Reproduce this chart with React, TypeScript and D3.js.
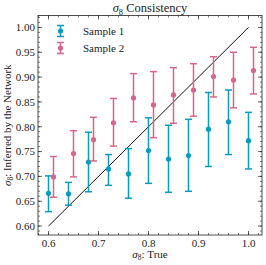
import * as d3 from "d3";
import React from "react";

// sample 1: true sigma8, inferred value, lower / upper bound
const x1 = [0.6, 0.64, 0.68, 0.72, 0.76, 0.8, 0.84, 0.88, 0.92, 0.96, 1.0];
const y1 = [0.666, 0.665, 0.729, 0.715, 0.705, 0.752, 0.735, 0.742, 0.795, 0.81, 0.772];
const lo1 = [0.629, 0.642, 0.669, 0.682, 0.656, 0.686, 0.668, 0.67, 0.72, 0.744, 0.715];
const hi1 = [0.701, 0.688, 0.789, 0.744, 0.756, 0.818, 0.803, 0.815, 0.869, 0.874, 0.829];

// sample 2 (shifted by +0.01 on x)
const x2 = [0.61, 0.65, 0.69, 0.73, 0.77, 0.81, 0.85, 0.89, 0.93, 0.97, 1.01];
const y2 = [0.699, 0.746, 0.774, 0.808, 0.858, 0.844, 0.864, 0.874, 0.901, 0.894, 0.913];
const lo2 = [0.658, 0.699, 0.731, 0.761, 0.81, 0.778, 0.807, 0.821, 0.86, 0.838, 0.866];
const hi2 = [0.74, 0.792, 0.819, 0.857, 0.907, 0.911, 0.919, 0.927, 0.941, 0.95, 0.96];

const xTicks = [0.6, 0.7, 0.8, 0.9, 1.0];
const yTicks = [0.6, 0.65, 0.7, 0.75, 0.8, 0.85, 0.9, 0.95, 1.0];
const seriesNames = ["Sample 1", "Sample 2"];
const colors = ["#0a9bc0", "#d6668a"];

const W = 266;
const H = 265;
const margin = { top: 15.5, right: 4, bottom: 30, left: 38 };
const font = "'Liberation Serif', serif";

export default function App() {
  const x = d3.scaleLinear().domain([0.579, 1.027]).range([margin.left, W - margin.right]);
  const y = d3.scaleLinear().domain([0.582, 1.024]).range([H - margin.bottom, margin.top]);
  const [x0, xr] = x.range();
  const [yb, yt] = y.range();

  const xMinor = d3.range(0.58, 1.03, 0.02).filter((v) => v >= 0.579 && v <= 1.027);
  const yMinor = d3.range(0.59, 1.024, 0.01);

  const series = [
    { xs: x1, ys: y1, lo: lo1, hi: hi1 },
    { xs: x2, ys: y2, lo: lo2, hi: hi2 },
  ];

  const line = d3.line<number>().x((d) => x(d)).y((d) => y(d));

  return (
    <div style={{ position: "fixed", left: 0, top: 0 }}>
      <svg width={W} height={H} style={{ display: "block", background: "#fff" }} fontFamily={font}>
        {/* identity line */}
        <path d={line([0.6, 1.0])!} stroke="#111" strokeWidth={1} fill="none" />

        {series.map((s, k) => (
          <g key={k} stroke={colors[k]} fill={colors[k]}>
            {s.xs.map((xv, i) => (
              <g key={i}>
                <line x1={x(xv)} x2={x(xv)} y1={y(s.lo[i])} y2={y(s.hi[i])} strokeWidth={1.5} />
                <line x1={x(xv) - 3.5} x2={x(xv) + 3.5} y1={y(s.lo[i])} y2={y(s.lo[i])} strokeWidth={1.5} />
                <line x1={x(xv) - 3.5} x2={x(xv) + 3.5} y1={y(s.hi[i])} y2={y(s.hi[i])} strokeWidth={1.5} />
                <circle cx={x(xv)} cy={y(s.ys[i])} r={2.6} stroke="none" />
              </g>
            ))}
          </g>
        ))}

        {/* frame */}
        <rect x={x0} y={yt} width={xr - x0} height={yb - yt} fill="none" stroke="#222" strokeWidth={0.8} />

        {/* x ticks */}
        {xTicks.map((t) => (
          <g key={t}>
            <line x1={x(t)} x2={x(t)} y1={yb} y2={yb - 4} stroke="#222" strokeWidth={0.7} />
            <line x1={x(t)} x2={x(t)} y1={yt} y2={yt + 4} stroke="#222" strokeWidth={0.7} />
            <text x={x(t)} y={yb + 12} fontSize={11} textAnchor="middle" fill="#222">
              {t.toFixed(1)}
            </text>
          </g>
        ))}
        {xMinor.map((t, i) => (
          <g key={i}>
            <line x1={x(t)} x2={x(t)} y1={yb} y2={yb - 2} stroke="#222" strokeWidth={0.6} />
            <line x1={x(t)} x2={x(t)} y1={yt} y2={yt + 2} stroke="#222" strokeWidth={0.6} />
          </g>
        ))}

        {/* y ticks */}
        {yTicks.map((t) => (
          <g key={t}>
            <line x1={x0} x2={x0 + 4} y1={y(t)} y2={y(t)} stroke="#222" strokeWidth={0.7} />
            <line x1={xr} x2={xr - 4} y1={y(t)} y2={y(t)} stroke="#222" strokeWidth={0.7} />
            <text x={x0 - 3} y={y(t) + 3.8} fontSize={11} textAnchor="end" fill="#222">
              {t.toFixed(2)}
            </text>
          </g>
        ))}
        {yMinor.map((t, i) => (
          <g key={i}>
            <line x1={x0} x2={x0 + 2} y1={y(t)} y2={y(t)} stroke="#222" strokeWidth={0.6} />
            <line x1={xr} x2={xr - 2} y1={y(t)} y2={y(t)} stroke="#222" strokeWidth={0.6} />
          </g>
        ))}

        {/* legend */}
        {seriesNames.map((name, k) => {
          const ly = 31 + k * 17;
          const lx = 60.5;
          return (
            <g key={name}>
              <g stroke={colors[k]} fill={colors[k]}>
                <line x1={lx} x2={lx} y1={ly - 5.5} y2={ly + 5.5} strokeWidth={1.5} />
                <line x1={lx - 3.5} x2={lx + 3.5} y1={ly - 5.5} y2={ly - 5.5} strokeWidth={1.5} />
                <line x1={lx - 3.5} x2={lx + 3.5} y1={ly + 5.5} y2={ly + 5.5} strokeWidth={1.5} />
                <circle cx={lx} cy={ly} r={2.6} stroke="none" />
              </g>
              <text x={83} y={ly + 4} fontSize={11} fill="#222">
                {name}
              </text>
            </g>
          );
        })}

        {/* title */}
        <text x={(x0 + xr) / 2} y={12} fontSize={12.5} textAnchor="middle" fill="#222">
          <tspan fontStyle="italic">σ</tspan>
          <tspan fontSize={8.5} dy={2.5}>8</tspan>
          <tspan dy={-2.5}> Consistency</tspan>
        </text>

        {/* axis labels */}
        <text x={(x0 + xr) / 2} y={258} fontSize={11} textAnchor="middle" fill="#222">
          <tspan fontStyle="italic">σ</tspan>
          <tspan fontSize={7.5} dy={2}>8</tspan>
          <tspan dy={-2}>: True</tspan>
        </text>
        <text
          transform={`translate(11,${(yb + yt) / 2}) rotate(-90)`}
          fontSize={11}
          textAnchor="middle"
          fill="#222"
        >
          <tspan fontStyle="italic">σ</tspan>
          <tspan fontSize={7.5} dy={2}>8</tspan>
          <tspan dy={-2}>: Inferred by the Network</tspan>
        </text>
      </svg>
    </div>
  );
}
